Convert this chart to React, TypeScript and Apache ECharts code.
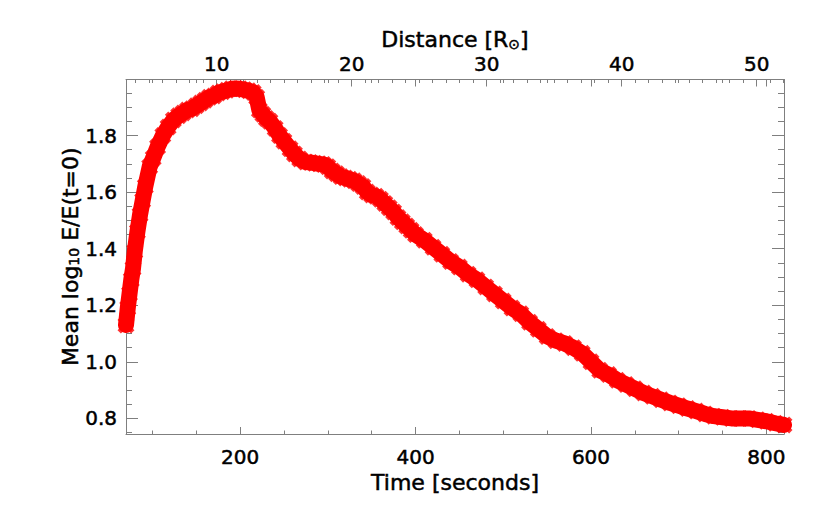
import React, { useEffect, useRef } from "react";
import * as echarts from "echarts";

// Time [seconds] of each sample
const times = [
  70, 72, 74, 76, 78, 80, 83, 86, 89, 92, 97, 101, 106, 112, 118, 124, 130, 135, 140, 145,
  150, 155, 160, 165, 170, 175, 180, 185, 190, 195, 200, 205, 210, 215, 219, 222, 226, 230,
  234, 240, 245, 250, 257, 262, 268, 275, 280, 285, 290, 295, 300, 305, 310, 315, 320, 325,
  330, 335, 340, 345, 350, 355, 360, 365, 370, 375, 380, 385, 390, 395, 400, 410, 420, 430,
  440, 450, 460, 470, 480, 490, 500, 510, 520, 530, 540, 550, 560, 570, 580, 590, 600, 610,
  620, 630, 640, 650, 660, 670, 680, 690, 700, 710, 720, 730, 740, 750, 760, 770, 780, 790,
  800, 810, 820,
];
// Mean log10 E/E(t=0)
const energy = [
  1.13, 1.19, 1.24, 1.29, 1.33, 1.39, 1.46, 1.52, 1.57, 1.62, 1.69, 1.72, 1.76, 1.8, 1.83,
  1.855, 1.87, 1.88, 1.89, 1.895, 1.905, 1.915, 1.925, 1.935, 1.94, 1.95, 1.955, 1.96, 1.965,
  1.966, 1.965, 1.962, 1.958, 1.952, 1.935, 1.89, 1.875, 1.86, 1.85, 1.825, 1.8, 1.78, 1.753,
  1.735, 1.717, 1.706, 1.705, 1.702, 1.7, 1.698, 1.69, 1.675, 1.665, 1.655, 1.65, 1.645, 1.64,
  1.63, 1.62, 1.6, 1.59, 1.585, 1.575, 1.56, 1.545, 1.53, 1.51, 1.495, 1.48, 1.465, 1.45,
  1.43, 1.405, 1.38, 1.355, 1.335, 1.31, 1.29, 1.265, 1.24, 1.215, 1.19, 1.17, 1.14, 1.115,
  1.09, 1.075, 1.065, 1.05, 1.03, 1.0, 0.97, 0.955, 0.935, 0.92, 0.905, 0.89, 0.878, 0.866,
  0.855, 0.845, 0.835, 0.826, 0.816, 0.808, 0.804, 0.8, 0.8, 0.8, 0.795, 0.79, 0.783, 0.777,
];

const timeRange = [70, 820];
const distanceRange = [3.28, 52.02];
const energyRange = [0.745, 1.998];

const FONT = "DejaVu Sans";
const AXIS = "#7f7f7f";
const X_SYMBOL =
  "path://M0,2 L2,0 L5,3 L8,0 L10,2 L7,5 L10,8 L8,10 L5,7 L2,10 L0,8 L3,5 Z";

const textBase = {
  color: "#000",
  fontFamily: FONT,
  textBorderColor: "#000",
  textBorderWidth: 0.5,
};

export default function App() {
  const ref = useRef<HTMLDivElement>(null);
  useEffect(() => {
    if (!ref.current) return;
    const chart = echarts.init(ref.current, null, { renderer: "svg" });
    const data = times.map((t, i) => [t, energy[i]]);
    const lineStyle = { color: AXIS, width: 1 };
    const subStyle = { ...textBase, fontSize: 14, lineHeight: 13, padding: [8, 0, 0, 0] };
    chart.setOption({
      animation: false,
      backgroundColor: "#ffffff",
      grid: { left: 126, right: 38, top: 79.5, bottom: 80, containLabel: false },
      xAxis: [
        {
          type: "value",
          position: "bottom",
          min: timeRange[0],
          max: timeRange[1],
          minInterval: 200,
          maxInterval: 200,
          axisLine: { show: true, lineStyle },
          axisTick: { show: true, inside: true, length: 7, lineStyle },
          minorTick: { show: true, splitNumber: 4, length: 3.5, lineStyle },
          splitLine: { show: false },
          axisLabel: {
            ...textBase,
            show: true,
            showMinLabel: false,
            showMaxLabel: false,
            margin: 13,
            fontSize: 20,
            formatter: (v: number) => String(Math.round(v)),
          },
          name: "Time [seconds]",
          nameLocation: "middle",
          nameGap: 37,
          nameMoveOverlap: false,
          nameTextStyle: { ...textBase, fontSize: 22 },
        },
        {
          type: "value",
          position: "top",
          min: timeRange[0],
          max: timeRange[1],
          minInterval: 200,
          maxInterval: 200,
          axisLine: { show: true, lineStyle },
          axisTick: { show: true, inside: true, length: 7, lineStyle },
          minorTick: { show: true, splitNumber: 4, length: 3.5, lineStyle },
          splitLine: { show: false },
          axisLabel: { show: false },
        },
        {
          type: "value",
          position: "top",
          min: distanceRange[0],
          max: distanceRange[1],
          minInterval: 10,
          maxInterval: 10,
          axisLine: { show: false },
          axisTick: { show: true, inside: true, length: 7, lineStyle },
          minorTick: { show: true, splitNumber: 10, length: 3.5, lineStyle },
          splitLine: { show: false },
          axisLabel: {
            ...textBase,
            show: true,
            showMinLabel: false,
            showMaxLabel: false,
            margin: 8,
            fontSize: 20,
            lineHeight: 16,
            formatter: (v: number) => String(Math.round(v)),
          },
          name: "Distance [R{sub|⊙}]",
          nameLocation: "middle",
          nameGap: 29,
          nameMoveOverlap: false,
          nameTextStyle: { ...textBase, fontSize: 22, lineHeight: 22, rich: { sub: subStyle } },
        },
      ],
      yAxis: [
        {
          type: "value",
          position: "left",
          min: energyRange[0],
          max: energyRange[1],
          minInterval: 0.2,
          maxInterval: 0.2,
          axisLine: { show: true, lineStyle },
          axisTick: { show: true, inside: true, length: 12, lineStyle },
          minorTick: { show: true, splitNumber: 4, length: 6, lineStyle },
          splitLine: { show: false },
          axisLabel: {
            ...textBase,
            show: true,
            showMinLabel: false,
            showMaxLabel: false,
            margin: 9,
            fontSize: 20,
            formatter: (v: number) => v.toFixed(1),
          },
          name: "Mean log{sub|10} E/E(t=0)",
          nameLocation: "middle",
          nameRotate: 90,
          nameGap: 45,
          nameMoveOverlap: false,
          nameTextStyle: { ...textBase, fontSize: 22, lineHeight: 22, rich: { sub: subStyle } },
        },
        {
          type: "value",
          position: "right",
          min: energyRange[0],
          max: energyRange[1],
          minInterval: 0.2,
          maxInterval: 0.2,
          axisLine: { show: true, lineStyle },
          axisTick: { show: true, inside: true, length: 12, lineStyle },
          minorTick: { show: true, splitNumber: 4, length: 6, lineStyle },
          splitLine: { show: false },
          axisLabel: { show: false },
        },
      ],
      series: [
        {
          type: "line",
          xAxisIndex: 0,
          yAxisIndex: 0,
          data,
          showSymbol: false,
          symbol: "none",
          clip: true,
          lineStyle: { color: "#ff0000", width: 16, join: "round", cap: "round" },
        },
        {
          type: "scatter",
          xAxisIndex: 0,
          yAxisIndex: 0,
          data,
          clip: true,
          symbol: X_SYMBOL,
          symbolSize: 17,
          itemStyle: { color: "#ff0000" },
        },
      ],
    });
    return () => chart.dispose();
  }, []);
  return (
    <div
      ref={ref}
      style={{ position: "absolute", left: 0, top: 0, width: 822, height: 514 }}
    />
  );
}
